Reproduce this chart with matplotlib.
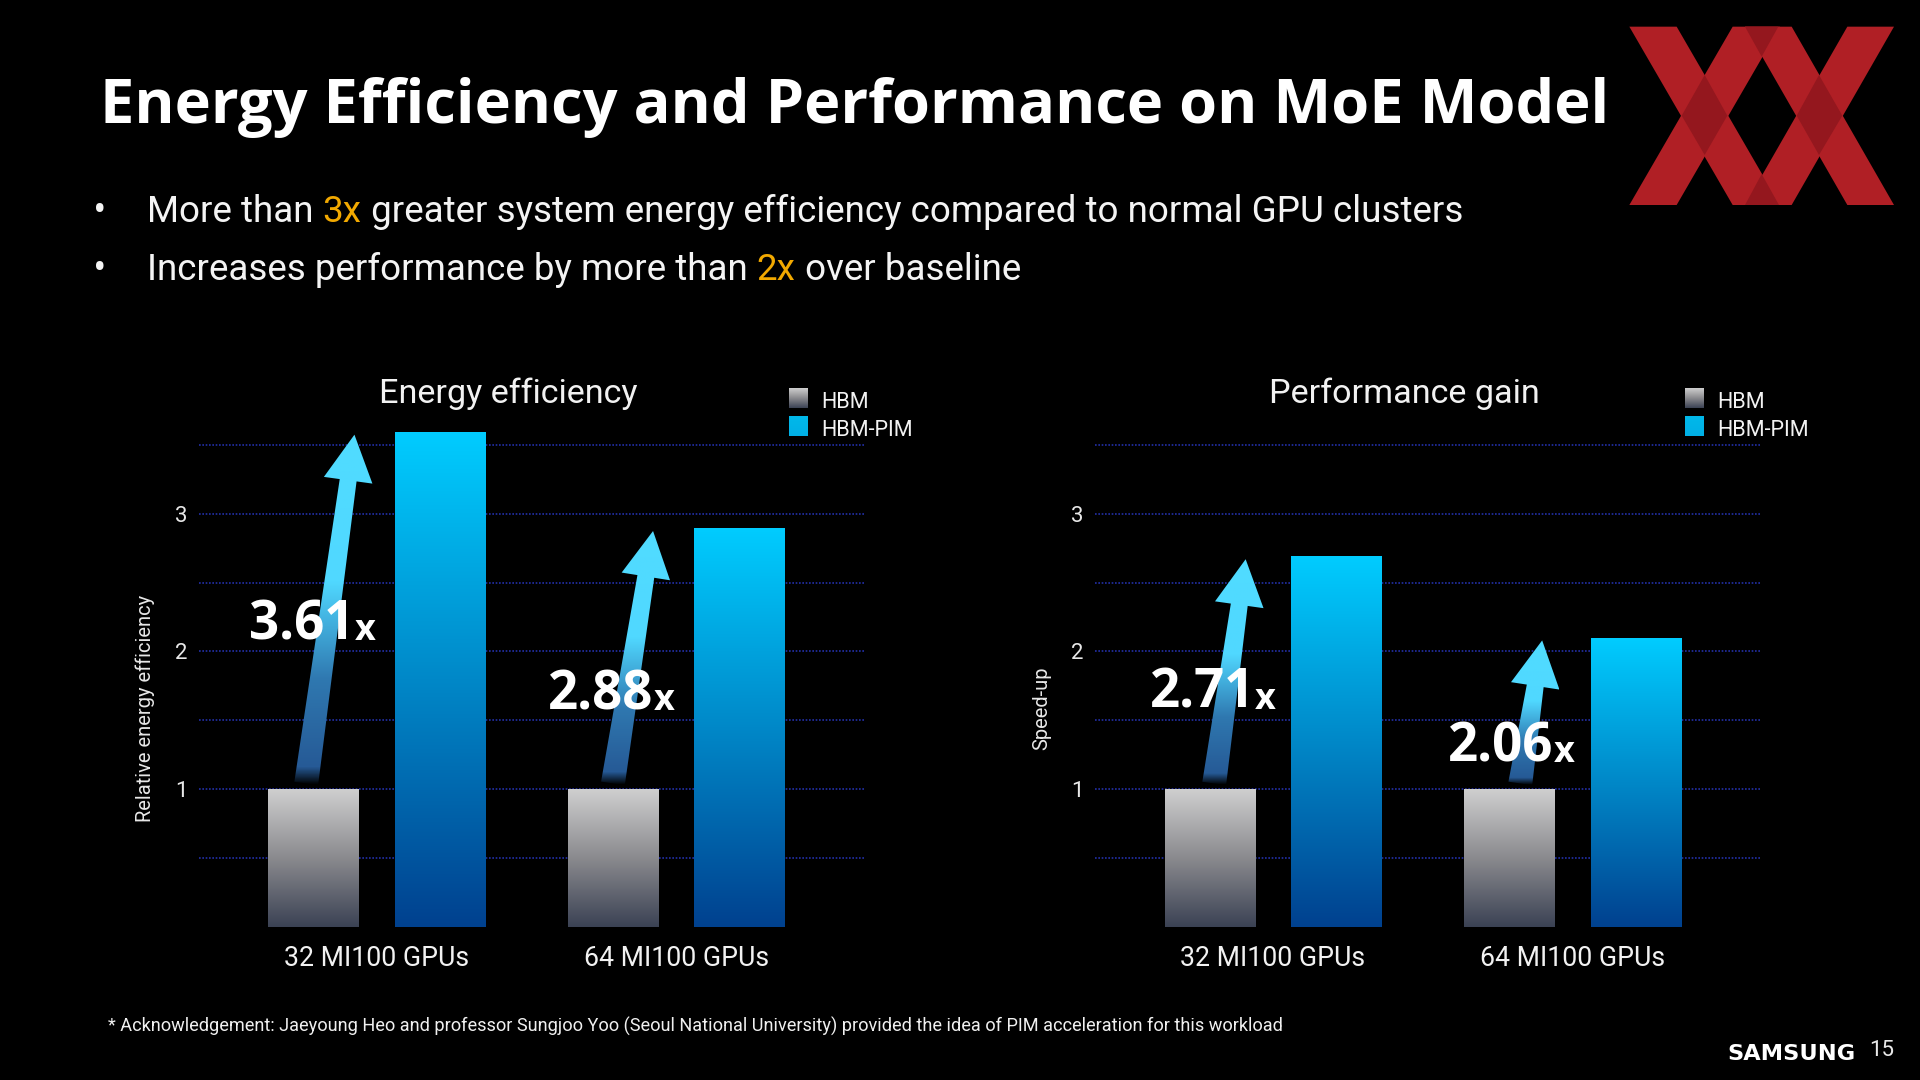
import numpy as np
import matplotlib
matplotlib.use("Agg")
import matplotlib.pyplot as plt
from matplotlib.colors import LinearSegmentedColormap
from matplotlib.patches import Polygon, Rectangle

# ---------- data ----------
categories = ["32 MI100 GPUs", "64 MI100 GPUs"]
hbm_eff = [1.0, 1.0]
pim_eff = [3.595, 2.895]
hbm_perf = [1.0, 1.0]
pim_perf = [2.69, 2.10]
labels_eff = ["3.61", "2.88"]
labels_perf = ["2.71", "2.06"]
y_ticks = [0.5, 1, 1.5, 2, 2.5, 3, 3.5]
y_ticklabels = ["", "1", "", "2", "", "3", ""]
legend_names = ["HBM", "HBM-PIM"]
panel_titles = ["Energy efficiency", "Performance gain"]
panel_ylabels = ["Relative energy efficiency", "Speed-up"]
title = "Energy Efficiency and Performance on MoE Model"
bullet1 = [("More than ", "w"), ("3x", "o"), (" greater system energy efficiency compared to normal GPU clusters", "w")]
bullet2 = [("Increases performance by more than ", "w"), ("2x", "o"), (" over baseline", "w")]
footnote = "* Acknowledgement: Jaeyoung Heo and professor Sungjoo Yoo (Seoul National University) provided the idea of PIM acceleration for this workload"

FONT = "Roboto"
BOLD = "Open Sans"
W, H = 1920, 1080
plt.rcParams["font.family"] = [FONT, "DejaVu Sans"]
fig = plt.figure(figsize=(W / 100, H / 100), dpi=100, facecolor="black")

grey_cm = LinearSegmentedColormap.from_list("g", ["#3b4254", "#8a8a8e", "#cfcfcf"])
blue_cm = LinearSegmentedColormap.from_list("b", ["#00418f", "#0088c8", "#00ccff"])
arrow_cm = LinearSegmentedColormap.from_list(
    "a", [(0, "#000000"), (0.05, "#265a96"), (0.3, "#2f78b0"), (0.58, "#50d8ff"), (1, "#50dcff")])
grad = np.linspace(1, 0, 256).reshape(-1, 1)


def add_axes_px(x0, x1, y_top, y_bot, **kw):
    return fig.add_axes([x0 / W, 1 - y_bot / H, (x1 - x0) / W, (y_bot - y_top) / H], **kw)


over = fig.add_axes([0, 0, 1, 1], zorder=5)
over.set_xlim(0, W)
over.set_ylim(H, 0)
over.axis("off")
over.patch.set_alpha(0)


def gradient_bar(ax, x, val, width, cmap):
    mid = cmap(0.5)
    ax.bar(x, val, width, color=mid, zorder=2)
    ax.imshow(grad, cmap=cmap, extent=(x - width / 2, x + width / 2, 0, val),
              aspect="auto", zorder=3, vmin=0, vmax=1)


def arrow(ax, x_base, x_tip, y_tip):
    (bx, by) = ax.transData.transform((x_base, 1.04))
    (tx, ty) = ax.transData.transform((x_tip, y_tip))
    by, ty = H - by, H - ty
    base = np.array([bx, by])
    tip = np.array([tx, ty])
    d = tip - base
    L = np.hypot(*d)
    u = d / L
    n = np.array([-u[1], u[0]])
    neck = tip - u * 46
    pts = [base + n * 12, neck + n * 8.5, neck + n * 24.5, tip,
           neck - n * 24.5, neck - n * 8.5, base - n * 12]
    poly = Polygon(pts, closed=True, facecolor="none", edgecolor="none", transform=over.transData)
    over.add_patch(poly)
    xs = [p[0] for p in pts]
    ys = [p[1] for p in pts]
    im = over.imshow(grad, cmap=arrow_cm, extent=(min(xs), max(xs), max(ys), min(ys)),
                     aspect="auto", zorder=3, vmin=0, vmax=1, origin="upper")
    im.set_clip_path(poly)
    over.set_xlim(0, W)
    over.set_ylim(H, 0)


def panel(x_shift, hbm, pim, base_off, tip_off, ttl, ylab):
    ax = add_axes_px(198.7 + x_shift, 863.6 + x_shift, 926.6 - 3.75 * 137.6, 926.6, zorder=1)
    ax.set_facecolor("none")
    xs = np.arange(len(categories))
    offs = 0.211
    bw = 0.301
    ax.set_xlim(-0.594, 1.626)
    ax.set_ylim(0, 3.75)
    for s in ax.spines.values():
        s.set_visible(False)
    ax.set_yticks(y_ticks)
    ax.set_yticklabels(y_ticklabels, color="#e8e8e8", fontsize=16)
    ax.tick_params(axis="y", length=0, pad=8)
    ax.set_xticks(xs)
    ax.set_xticklabels(categories, color="#f2f2f2", fontsize=19.2)
    ax.tick_params(axis="x", length=0, pad=13)
    ax.grid(axis="y", color="#2230a8", linestyle=(0, (1, 1)), linewidth=1.2, zorder=1)
    ax.set_axisbelow(True)
    for i in xs:
        gradient_bar(ax, i - offs, hbm[i], bw, grey_cm)
        gradient_bar(ax, i + offs, pim[i], bw, blue_cm)
    ax.set_xlim(-0.594, 1.626)
    ax.set_ylim(0, 3.75)
    ax.set_ylabel(ylab, color="#e8e8e8", fontsize=14.5, labelpad=0)
    ax.yaxis.set_label_coords((155 - 198.7) / 664.9, (926.6 - 708) / (3.75 * 137.6))
    # panel title
    over.text(508 + x_shift, 394, ttl, color="#f2f2f2", fontsize=24.6, ha="center", va="center")
    # arrows
    for i in xs:
        xb = i - offs
        arrow(ax, xb + base_off[i], xb + tip_off[i], pim[i] - 0.02)
    # legend
    sw = [(grey_cm, 388), (blue_cm, 416)]
    for (cm, y), name in zip(sw, legend_names):
        rect = Rectangle((789 + x_shift, y), 19, 20, facecolor="#00b4e6" if cm is blue_cm else "#888888", edgecolor="none")
        over.add_patch(rect)
        g = over.imshow(grad, cmap=cm if cm is grey_cm else LinearSegmentedColormap.from_list("s", ["#00b0e6", "#00b8ea"]),
                        extent=(789 + x_shift, 808 + x_shift, y + 20, y), aspect="auto", origin="upper", zorder=3)
        g.set_clip_path(rect)
        over.text(821 + x_shift, y + 14, name, color="#f2f2f2", fontsize=15.6, va="center", ha="left")
    over.set_xlim(0, W)
    over.set_ylim(H, 0)
    return ax


axL = panel(0, hbm_eff, pim_eff, [-0.024, 0.0], [0.137, 0.134], panel_titles[0], panel_ylabels[0])
axR = panel(896.3, hbm_perf, pim_perf, [0.015, 0.037], [0.12, 0.11], panel_titles[1], panel_ylabels[1])

fig.canvas.draw()
rend = fig.canvas.get_renderer()


def runs(x, y, parts, fs):
    cols = {"w": "#f4f4f4", "o": "#f2a900"}
    for s, c in parts:
        t = over.text(x, y, s.replace(" ", "\u00a0"), color=cols[c], fontsize=fs, va="center", ha="left")
        bb = t.get_window_extent(rend)
        x += bb.width


# multiplier labels (left x px, centre y px)
label_pos = [(249, 625), (548, 695), (1150, 694), (1448, 747)]
for (lx, ly), s in zip(label_pos, labels_eff + labels_perf):
    t = over.text(lx, ly, s, color="white", fontsize=38, fontweight="bold", family=BOLD, va="center", ha="left", zorder=6)
    bb = t.get_window_extent(rend)
    over.text(lx + bb.width, ly + 6, "x", color="white", fontsize=26, fontweight="bold", family=BOLD, va="center", ha="left", zorder=6)

over.text(100, 107, title, color="white", fontsize=44.2, fontweight="bold", family=BOLD, va="center", ha="left")
for y, parts in ((212, bullet1), (270, bullet2)):
    over.text(100, y, "\u2022", color="#f4f4f4", fontsize=26, va="center", ha="center", family=BOLD)
    runs(147, y, parts, 26.45)
over.text(108, 1026, footnote, color="#f0f0f0", fontsize=13.02, va="center", ha="left")
over.text(1882, 1051, "15", color="#e8e8e8", fontsize=16, va="center", ha="center")
over.text(1791, 1054, "SAMSUNG", color="white", fontsize=16.2, fontweight="bold",
          family=["DejaVu Sans"], va="center", ha="center")

# logo
LOGO_X, LOGO_Y, S = 1600, 0, 1 / 3
bands = [
    [(88, 80), (230, 80), (540, 615), (398, 615)],
    [(88, 615), (230, 615), (540, 80), (398, 80)],
    [(435, 80), (575, 80), (882, 615), (742, 615)],
    [(435, 615), (575, 615), (882, 80), (742, 80)],
]
overlaps = [
    [(314, 225), (382, 347), (314, 465), (245, 347)],
    [(657, 225), (727, 347), (657, 465), (590, 347)],
    [(435, 80), (535, 80), (485, 170)],
    [(435, 615), (537, 615), (485, 522)],
]
conv = lambda pts: [(LOGO_X + a * S, LOGO_Y + b * S) for a, b in pts]
for b in bands:
    over.add_patch(Polygon(conv(b), closed=True, facecolor="#b01f25", edgecolor="none", zorder=2))
for b in overlaps:
    over.add_patch(Polygon(conv(b), closed=True, facecolor="#94171e", edgecolor="none", zorder=2.1))

fig.savefig("out.png", dpi=100, facecolor="black")
